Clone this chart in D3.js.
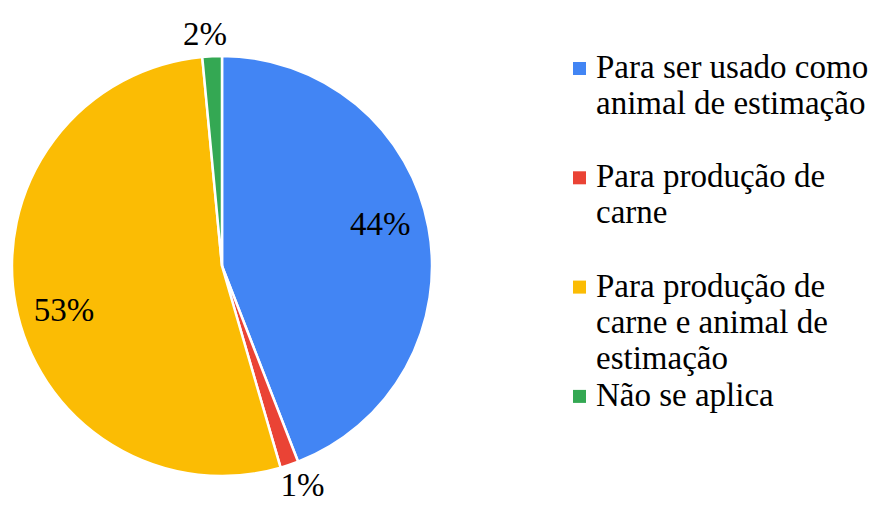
<!DOCTYPE html>
<html>
<head>
<meta charset="utf-8">
<script src="https://cdn.jsdelivr.net/npm/d3@7"></script>
</head>
<body style="margin:0; background:#fff">
<div id="chart"></div>
<script>
var svgWidth = 878;
var svgHeight = 506;

// data
var categories = [
    "Para ser usado como animal de estimação",
    "Para produção de carne",
    "Para produção de carne e animal de estimação",
    "Não se aplica"
];
var values = [44.1, 1.4, 53.0, 1.5];
var colors = ["#4285F4", "#EA4335", "#FBBC04", "#34A853"];
var legendLines = [
    ["Para ser usado como", "animal de estimação"],
    ["Para produção de", "carne"],
    ["Para produção de", "carne e animal de", "estimação"],
    ["Não se aplica"]
];

var center = { x: 222, y: 266 };
var radius = 210;
var fontSize = 33;
var serif = '"Liberation Serif"';

var svg = d3.select("#chart")
    .append("svg")
    .attr("width", svgWidth)
    .attr("height", svgHeight);

var pieGroup = svg.append("g")
    .attr("transform", `translate(${center.x}, ${center.y})`);

var data = categories.map((c, i) => ({ name: c, value: values[i], color: colors[i] }));

var pie = d3.pie()
    .value(d => d.value)
    .sort(null);

var arcs = pie(data);

var arc = d3.arc()
    .innerRadius(0)
    .outerRadius(radius);

pieGroup.selectAll("path")
    .data(arcs)
    .enter()
    .append("path")
    .attr("d", arc)
    .attr("fill", d => d.data.color)
    .attr("stroke", "#fff")
    .attr("stroke-width", 2.5)
    .attr("stroke-linejoin", "round");

// small slices get their label outside the pie
var insideArc = d3.arc().innerRadius(radius * 0.78).outerRadius(radius * 0.78);
var outsideArc = d3.arc().innerRadius(radius * 1.11).outerRadius(radius * 1.11);
var insideTurn = -4.5 * Math.PI / 180;
var outsideTurn = -1.5 * Math.PI / 180;

function labelPos(d) {
    var small = d.data.value < 5;
    var turn = small ? outsideTurn : insideTurn;
    var shifted = { startAngle: d.startAngle + turn, endAngle: d.endAngle + turn };
    return small ? outsideArc.centroid(shifted) : insideArc.centroid(shifted);
}

pieGroup.selectAll(".pctLabel")
    .data(arcs)
    .enter()
    .append("text")
    .attr("class", "pctLabel")
    .attr("transform", d => {
        var c = labelPos(d);
        return `translate(${c[0]}, ${c[1]})`;
    })
    .attr("text-anchor", "middle")
    .attr("dy", "0.35em")
    .attr("font-size", fontSize + "px")
    .style("font-family", serif)
    .style("fill", "#000")
    .text(d => Math.round(d.data.value) + "%");

// legend
var legendX = 573;
var legendTop = 78;
var legendStep = 109.3;
var lineHeight = 36;

var legend = svg.append("g");

var entries = legend.selectAll(".entry")
    .data(data)
    .enter()
    .append("g")
    .attr("class", "entry")
    .attr("transform", (d, i) => `translate(${legendX}, ${legendTop + i * legendStep})`);

entries.append("rect")
    .attr("x", 0)
    .attr("y", -16)
    .attr("width", 13)
    .attr("height", 13)
    .attr("fill", d => d.color);

entries.append("text")
    .attr("font-size", fontSize + "px")
    .style("font-family", serif)
    .style("fill", "#000")
    .selectAll("tspan")
    .data((d, i) => legendLines[i])
    .enter()
    .append("tspan")
    .attr("x", 23)
    .attr("y", (d, j) => j * lineHeight)
    .text(d => d);
</script>
</body>
</html>
